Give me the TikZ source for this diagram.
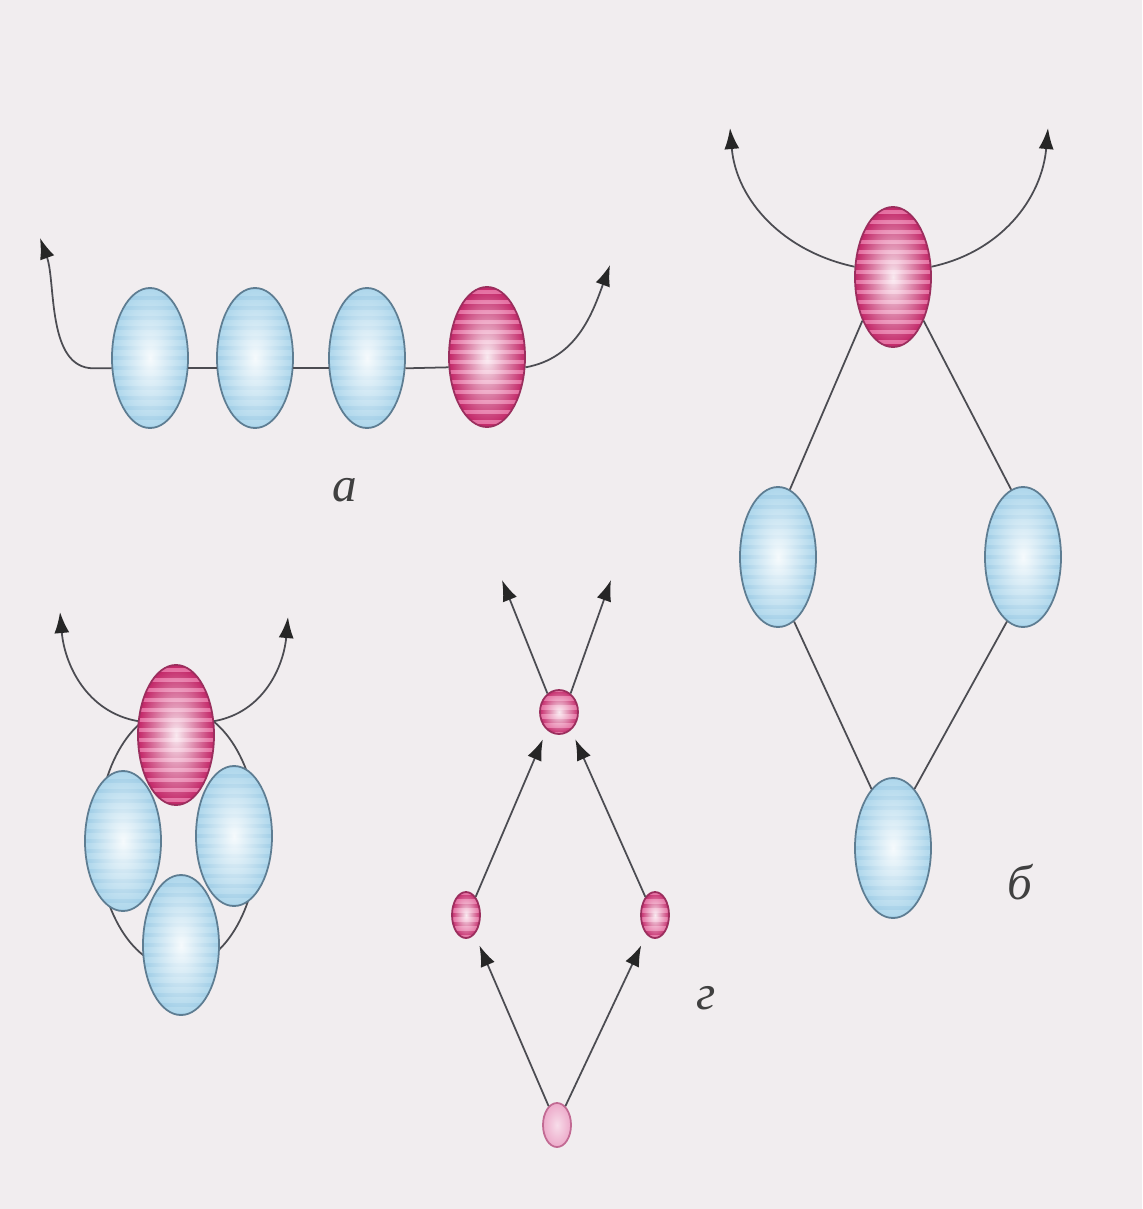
\documentclass[tikz,border=0pt]{standalone}
\usepackage{fontspec}
\setmainfont{Liberation Serif}
\usetikzlibrary{shapes.geometric,arrows.meta,fadings}

\definecolor{paper}{HTML}{F1EDEF}
\definecolor{wirecol}{HTML}{4C4C52}
\definecolor{blueout}{HTML}{AED7EC}
\definecolor{bluerim}{HTML}{5E7D92}
\definecolor{bluestripe}{HTML}{86C0DE}
\definecolor{pinkout}{HTML}{E46A9E}
\definecolor{pinkrim}{HTML}{9B2F5E}
\definecolor{pinkstripe}{HTML}{BB145A}
\definecolor{pinkpale}{HTML}{EDAACA}
\definecolor{pinkpalerim}{HTML}{C26A93}

\tikzfading[name=glow, inner color=transparent!0, outer color=transparent!100]

% stripes + bright centre inside a ball
\newcommand\ballpic[4]{%
  \foreach \k in {-9,...,9}
    \draw[#1, line width=#2, opacity=#3]
      ([yshift=\k*#4]path picture bounding box.west) --
      ([yshift=\k*#4]path picture bounding box.east);
  \fill[white, opacity=0.9, path fading=glow]
    (path picture bounding box.south west) rectangle (path picture bounding box.north east);
}

\tikzset{
  wire/.style={draw=wirecol, line width=0.5pt},
  arr/.style={wire, -{Latex[length=2.1mm,width=1.5mm,color=black!85]}},
  ballbase/.style={ellipse, inner sep=0pt, line width=0.5pt},
  blueball/.style={ballbase, draw=bluerim, fill=blueout,
    minimum width=0.76cm, minimum height=1.4cm,
    path picture={\ballpic{bluestripe}{1pt}{0.35}{1mm}}},
  pinkball/.style={ballbase, draw=pinkrim, fill=pinkout,
    minimum width=0.76cm, minimum height=1.4cm,
    path picture={\ballpic{pinkstripe}{1.5pt}{0.8}{1mm}}},
  pinksmall/.style={ballbase, draw=pinkrim, fill=pinkout,
    minimum width=0.38cm, minimum height=0.44cm,
    path picture={\ballpic{pinkstripe}{1.2pt}{0.7}{0.9mm}}},
  pinkslim/.style={pinksmall, minimum width=0.28cm, minimum height=0.46cm},
  paleball/.style={ballbase, draw=pinkpalerim, fill=pinkpale,
    minimum width=0.28cm, minimum height=0.44cm,
    path picture={\fill[white, opacity=0.6, path fading=glow]
      (path picture bounding box.south west) rectangle (path picture bounding box.north east);}},
  letter/.style={font=\itshape\fontsize{14}{16}\selectfont, text=black!75, inner sep=0pt}
}

\begin{document}
\begin{tikzpicture}[x=0.01cm, y=-0.01cm]
\useasboundingbox (0,0) rectangle (1142,1209);
\fill[paper] (0,0) rectangle (1142,1209);

% ========= a: chain =========
\node[blueball] (a1) at (150,358) {};
\node[blueball] (a2) at (255,358) {};
\node[blueball] (a3) at (367,358) {};
\node[pinkball] (a4) at (487,357) {};
\coordinate (aL) at (40,238);
\coordinate (aR) at (610,265);
\draw[wire] (a1.-15) -- (a2.195);
\draw[wire] (a2.-15) -- (a3.195);
\draw[wire] (a3.-15) -- (a4.195);
\draw[arr] (a1.195) -- ++(-18,0) to[out=180,in=-70,looseness=0.85] (aL);
\draw[arr] (a4.-15) to[out=10,in=-110] (aR);
\node[letter] (la) at (345,490) {а};

% ========= б: rhomb =========
\node[pinkball] (bp) at (893,277) {};
\node[blueball] (bl) at (778,557) {};
\node[blueball] (br) at (1023,557) {};
\node[blueball] (bb) at (893,848) {};
\coordinate (bL) at (730,128);
\coordinate (bR) at (1048,128);
\draw[arr] (bp.165) to[out=168,in=-85] (bL);
\draw[arr] (bp.15) to[out=12,in=-95] (bR);
\draw[wire] (bp.235) -- (bl.80);
\draw[wire] (bp.305) -- (br.100);
\draw[wire] (bl.-76) -- (bb.110);
\draw[wire] (br.-104) -- (bb.70);
\node[letter] (lb) at (1020,882) {б};

% ========= cluster (bottom left) =========
\draw[wire] (178,838) ellipse [x radius=0.8cm, y radius=1.3cm];
\node[blueball] (cl) at (123,841) {};
\node[blueball] (cr) at (234,836) {};
\node[blueball] (cb) at (181,945) {};
\node[pinkball] (cp) at (176,735) {};
\coordinate (cL) at (60,612);
\coordinate (cR) at (288,617);
\draw[arr] (cp.160) to[out=170,in=-85] (cL);
\draw[arr] (cp.20) to[out=10,in=-95] (cR);

% ========= г: small balls =========
\node[pinksmall] (gt) at (559,712) {};
\node[pinkslim] (gl) at (466,915) {};
\node[pinkslim] (gr) at (655,915) {};
\node[paleball] (gb) at (557,1125) {};
\coordinate (gUL) at (502,580);
\coordinate (gUR) at (611,580);
\draw[arr] (gt.122) -- (gUL);
\draw[arr] (gt.58) -- (gUR);
\draw[arr, shorten >=1mm] (gl.62) -- (gt.236);
\draw[arr, shorten >=1mm] (gr.118) -- (gt.-56);
\draw[arr, shorten >=1.2mm] (gb.114) -- (gl.-66);
\draw[arr, shorten >=1.2mm] (gb.66) -- (gr.-114);
\node[letter] (lg) at (706,998) {г};
\end{tikzpicture}
\end{document}
